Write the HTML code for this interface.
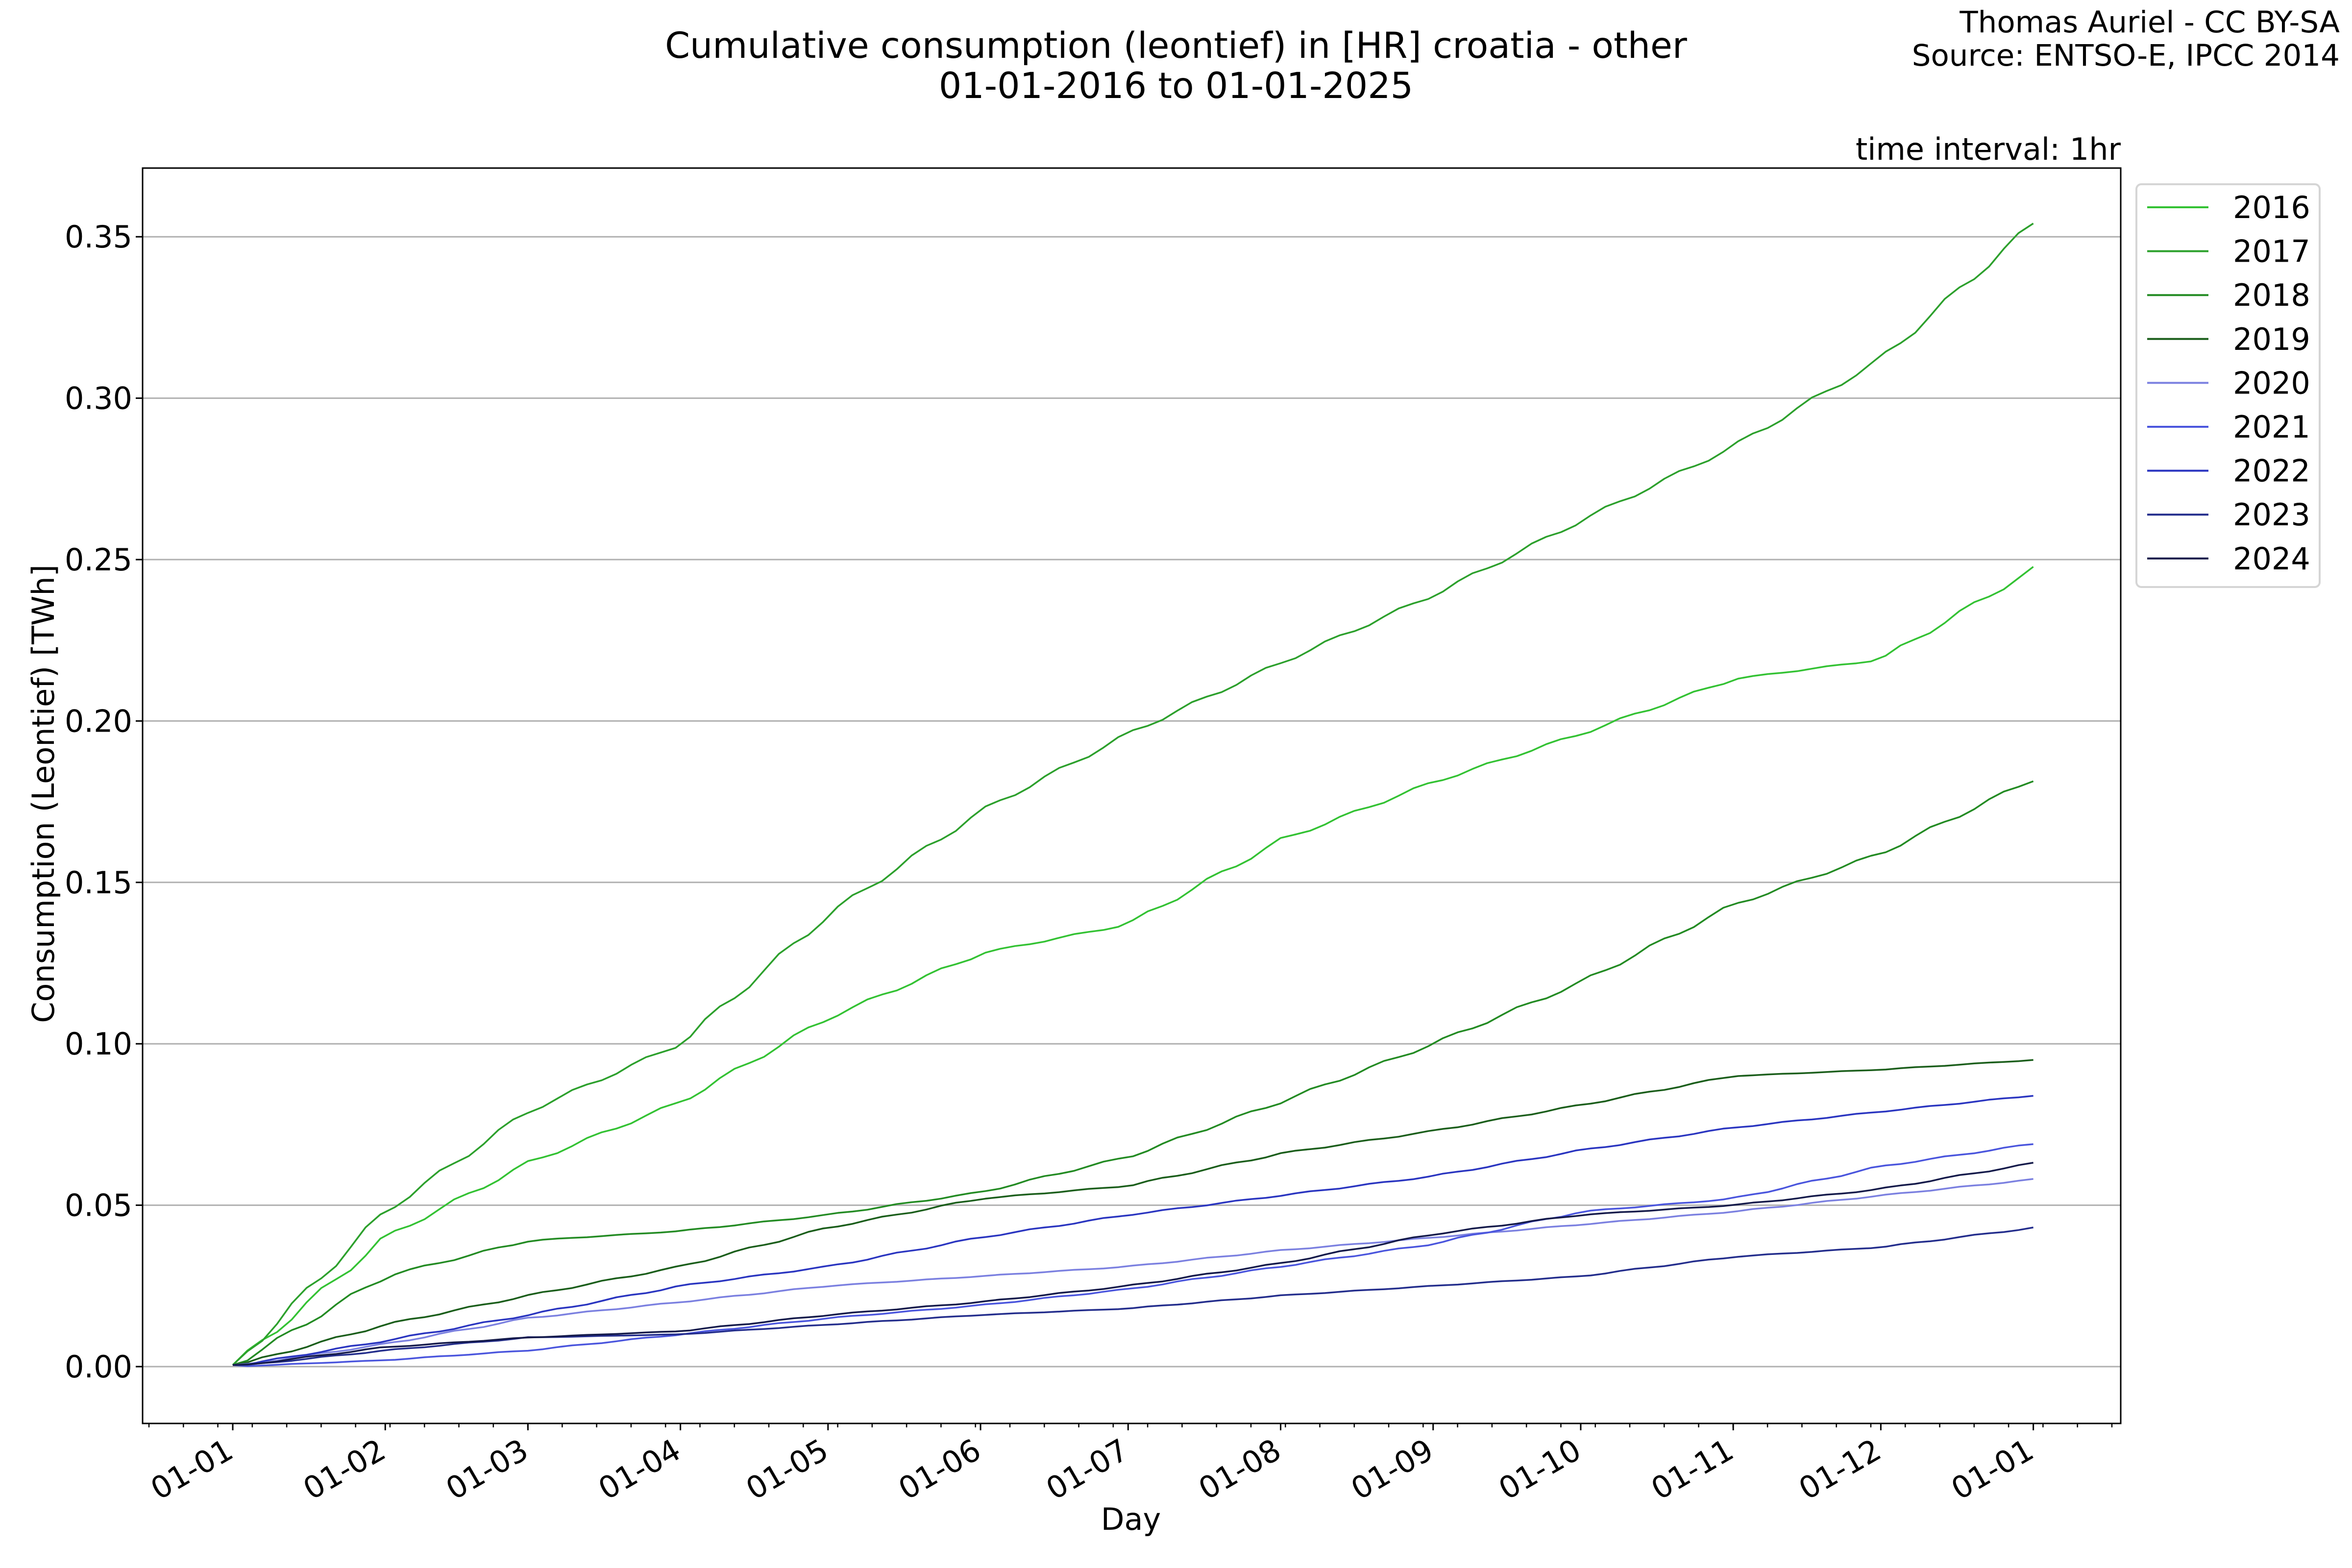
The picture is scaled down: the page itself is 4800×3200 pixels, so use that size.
<!DOCTYPE html>
<html><head><meta charset="utf-8"><style>
html,body{margin:0;padding:0;background:#fff;}
svg{display:block;font-family:"DejaVu Sans","Liberation Sans",sans-serif;}
</style></head><body>
<svg id="s" width="4800" height="3200" viewBox="0 0 4800 3200" xmlns="http://www.w3.org/2000/svg">
<rect width="4800" height="3200" fill="#fff"/>
<text x="2400" y="118" font-size="73" text-anchor="middle">Cumulative consumption (leontief) in [HR] croatia - other</text>
<text x="2400" y="200" font-size="73" text-anchor="middle">01-01-2016 to 01-01-2025</text>
<text x="4775" y="66" font-size="61" text-anchor="end">Thomas Auriel - CC BY-SA</text>
<text x="4775" y="134" font-size="61" text-anchor="end">Source: ENTSO-E, IPCC 2014</text>
<text x="4328" y="326" font-size="62" text-anchor="end">time interval: 1hr</text>
<g id="grid"></g>
<g id="lines" fill="none" stroke-width="3.5" stroke-linejoin="round"></g>
<rect x="291" y="343" width="4037" height="2562" fill="none" stroke="#000" stroke-width="3"/>
<g id="ticks"></g>
<text x="2308" y="3122" font-size="62" text-anchor="middle">Day</text>
<text transform="translate(110,1620) rotate(-90)" font-size="62" text-anchor="middle">Consumption (Leontief) [TWh]</text>
<rect x="4360" y="376" width="374" height="822" rx="10" fill="#fff" stroke="#d5d5d5" stroke-width="4"/>
<g id="legend"></g>
</svg>
<script>
const NS="http://www.w3.org/2000/svg";
function el(p,t,a,txt){const e=document.createElementNS(NS,t);for(const k in a)e.setAttribute(k,a[k]);if(txt!==undefined)e.textContent=txt;document.getElementById(p).appendChild(e);return e;}
const X0=475,PX=10.04,Y0=2789,PY=6588;
const X=d=>X0+d*PX, Y=v=>Y0-v*PY;
for(let i=0;i<=7;i++){const v=i*0.05,y=Y(v);
 el("grid","line",{x1:291,x2:4328,y1:y,y2:y,stroke:"#b0b0b0","stroke-width":3});
 el("ticks","line",{x1:277,x2:291,y1:y,y2:y,stroke:"#000","stroke-width":3});
 el("ticks","text",{x:270,y:y+22,"font-size":62,"text-anchor":"end"},v.toFixed(2));}
const md=[0,31,60,91,121,152,182,213,244,274,305,335,366];
const lab=["01-01","01-02","01-03","01-04","01-05","01-06","01-07","01-08","01-09","01-10","01-11","01-12","01-01"];
for(let x=304;x<4328;x+=70.28){el("ticks","line",{x1:x,x2:x,y1:2905,y2:2913,stroke:"#000","stroke-width":2.5});}
md.forEach((d,i)=>{const x=X(d);
 el("ticks","line",{x1:x,x2:x,y1:2905,y2:2919,stroke:"#000","stroke-width":3});
 el("ticks","text",{transform:`translate(${x-18},2932) rotate(-30)`,"font-size":62,"text-anchor":"end","dominant-baseline":"hanging"},lab[i]);});
const S=[
 ["2016","#33c233",[0,.040,.063,.082,.108,.128,.137,.163,.181,.196,.213,.219,.247]],
 ["2017","#2ca02c",[0,.048,.079,.100,.140,.172,.196,.218,.239,.262,.285,.312,.354]],
 ["2018","#238b23",[0,.028,.039,.042,.047,.054,.065,.082,.100,.119,.143,.159,.182]],
 ["2019","#1b5e1b",[0,.013,.022,.031,.043,.052,.056,.066,.073,.081,.090,.092,.095]],
 ["2020","#7b80e0",[0,.007,.015,.020,.025,.028,.031,.036,.040,.044,.048,.053,.058]],
 ["2021","#4a55dd",[0,.002,.005,.010,.015,.019,.024,.031,.038,.048,.052,.062,.069]],
 ["2022","#2a35c0",[0,.008,.016,.025,.031,.040,.047,.053,.059,.067,.074,.079,.084]],
 ["2023","#232d8c",[0,.005,.009,.010,.013,.016,.018,.022,.025,.028,.034,.037,.043]],
 ["2024","#141a4a",[0,.006,.009,.011,.016,.020,.025,.032,.041,.047,.050,.055,.063]]];
S.forEach((s,k)=>{const v=s[2];let pts=[];
 for(let d=0;d<=366;d+=3){let i=0;while(i<11&&d>md[i+1])i++;
  const t=(d-md[i])/(md[i+1]-md[i]);let val=v[i]+(v[i+1]-v[i])*t;
  const sl=(v[i+1]-v[i])/(md[i+1]-md[i]);val+=sl*0.9*Math.sin(d*0.45+k*1.7);
  if(d===0)val=0.0005;
  pts.push(X(d).toFixed(1)+","+Y(val).toFixed(1));}
 el("lines","polyline",{points:pts.join(" "),stroke:s[1]});
 const ly=423+k*89.6;
 el("legend","line",{x1:4382,x2:4507,y1:ly,y2:ly,stroke:s[1],"stroke-width":4});
 el("legend","text",{x:4557,y:ly+22,"font-size":62},s[0]);});
</script>
</body></html>
